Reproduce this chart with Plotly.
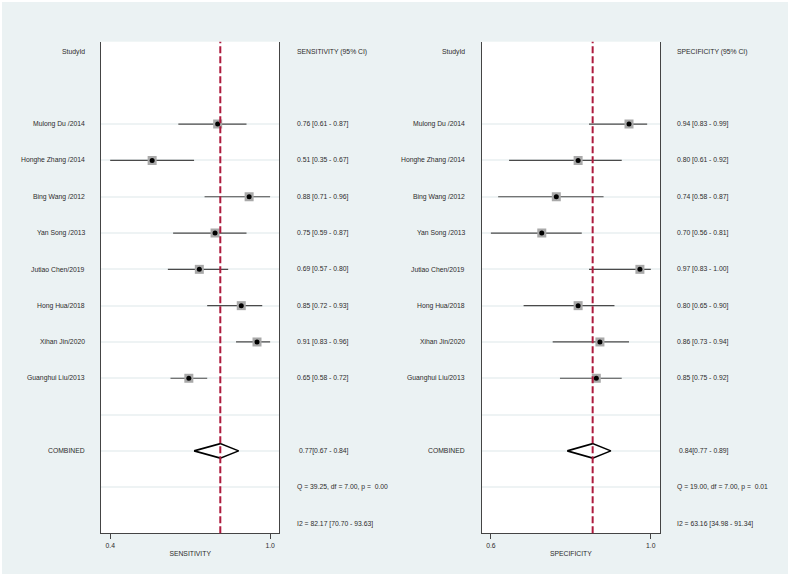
import math
import plotly.graph_objects as go

studies = ["Mulong Du /2014", "Honghe Zhang /2014", "Bing Wang /2012", "Yan Song /2013",
           "Jutiao Chen/2019", "Hong Hua/2018", "Xihan Jin/2020", "Guanghui Liu/2013"]

sens_est = [0.76, 0.51, 0.88, 0.75, 0.69, 0.85, 0.91, 0.65]
sens_lo = [0.61, 0.35, 0.71, 0.59, 0.57, 0.72, 0.83, 0.58]
sens_hi = [0.87, 0.67, 0.96, 0.87, 0.80, 0.93, 0.96, 0.72]
sens_comb = [0.77, 0.67, 0.84]
sens_q = "Q = 39.25, df = 7.00, p =  0.00"
sens_i2 = "I2 = 82.17 [70.70 - 93.63]"

spec_est = [0.94, 0.80, 0.74, 0.70, 0.97, 0.80, 0.86, 0.85]
spec_lo = [0.83, 0.61, 0.58, 0.56, 0.83, 0.65, 0.73, 0.75]
spec_hi = [0.99, 0.92, 0.87, 0.81, 1.00, 0.90, 0.94, 0.92]
spec_comb = [0.84, 0.77, 0.89]
spec_q = "Q = 19.00, df = 7.00, p =  0.01"
spec_i2 = "I2 = 63.16 [34.98 - 91.34]"

W, H = 790, 576
FONT = "Liberation Sans, Arial, sans-serif"
TXT = "#2b2b2b"
FS = 6.8
BG = "#EBF2F3"


def fmt1(v):
    return f"{math.floor(v * 10 + 0.5 + 1e-9) / 10:.1f}"


study_rows = list(range(2, 2 + len(studies)))
comb_row = 11
q_row = 12
i2_row = 13

fig = go.Figure()

panels = [
    dict(est=sens_est, lo=sens_lo, hi=sens_hi, comb=sens_comb, q=sens_q, i2=sens_i2,
         name="SENSITIVITY", xa="x", ya="y", dom=[101 / W, 279.3 / W],
         lab_x=86.5 / W, val_x=295 / W),
    dict(est=spec_est, lo=spec_lo, hi=spec_hi, comb=spec_comb, q=spec_q, i2=spec_i2,
         name="SPECIFICITY", xa="x2", ya="y2", dom=[481.7 / W, 660 / W],
         lab_x=467 / W, val_x=675.3 / W),
]

annotations = []
shapes = []
for i, p in enumerate(panels):
    # whiskers
    wx, wy = [], []
    for r, l, h in zip(study_rows, p["lo"], p["hi"]):
        wx += [l, h, None]
        wy += [r, r, None]
    fig.add_trace(go.Scatter(x=wx, y=wy, mode="lines", line=dict(color="#4a4a4a", width=1.2),
                             xaxis=p["xa"], yaxis=p["ya"], showlegend=False, hoverinfo="skip"))
    # square + dot
    fig.add_trace(go.Scatter(x=p["est"], y=study_rows, mode="markers",
                             marker=dict(symbol="square", size=9, color="#A9A9A9",
                                         line=dict(width=0)),
                             xaxis=p["xa"], yaxis=p["ya"], showlegend=False, hoverinfo="skip"))
    fig.add_trace(go.Scatter(x=p["est"], y=study_rows, mode="markers",
                             marker=dict(symbol="circle", size=5, color="black"),
                             xaxis=p["xa"], yaxis=p["ya"], showlegend=False, hoverinfo="skip"))
    # diamond
    est, lo, hi = p["comb"]
    fig.add_trace(go.Scatter(x=[lo, est, hi, est, lo],
                             y=[comb_row, comb_row - 0.2, comb_row, comb_row + 0.2, comb_row],
                             mode="lines", fill="toself", fillcolor="white",
                             line=dict(color="black", width=1.6),
                             xaxis=p["xa"], yaxis=p["ya"], showlegend=False, hoverinfo="skip"))
    # pooled dashed line
    shapes.append(dict(type="line", xref=p["xa"], yref=p["ya"] + " domain",
                       x0=est, x1=est, y0=0, y1=1,
                       line=dict(color="#AD1A3D", width=2, dash="7px,3px")))

    # labels
    ya = p["ya"]
    annotations.append(dict(text="StudyId", x=p["lab_x"], xref="paper", y=0, yref=ya,
                            xanchor="right", yanchor="middle", showarrow=False))
    annotations.append(dict(text=p["name"] + " (95% CI)", x=p["val_x"], xref="paper", y=0, yref=ya,
                            xanchor="left", yanchor="middle", showarrow=False))
    for r, s, e, l, h in zip(study_rows, studies, p["est"], p["lo"], p["hi"]):
        annotations.append(dict(text=s, x=p["lab_x"], xref="paper", y=r, yref=ya,
                                xanchor="right", yanchor="middle", showarrow=False))
        annotations.append(dict(text=f"{e:.2f} [{l:.2f} - {h:.2f}]", x=p["val_x"], xref="paper",
                                y=r, yref=ya, xanchor="left", yanchor="middle", showarrow=False))
    annotations.append(dict(text="COMBINED", x=p["lab_x"], xref="paper", y=comb_row, yref=ya,
                            xanchor="right", yanchor="middle", showarrow=False))
    annotations.append(dict(text=f"{est:.2f}[{lo:.2f} - {hi:.2f}]", x=p["val_x"] + 1.7 / W,
                            xref="paper", y=comb_row, yref=ya,
                            xanchor="left", yanchor="middle", showarrow=False))
    annotations.append(dict(text=p["q"], x=p["val_x"], xref="paper", y=q_row, yref=ya,
                            xanchor="left", yanchor="middle", showarrow=False))
    annotations.append(dict(text=p["i2"], x=p["val_x"], xref="paper", y=i2_row, yref=ya,
                            xanchor="left", yanchor="middle", showarrow=False))

    tmin, tmax = min(p["lo"]), max(p["hi"])
    pad = 0.0575 * (tmax - tmin)
    xkey = "xaxis" if i == 0 else "xaxis2"
    ykey = "yaxis" if i == 0 else "yaxis2"
    fig.layout[xkey] = dict(domain=p["dom"], range=[tmin - pad, tmax + pad],
                            tickvals=[tmin, tmax], ticktext=[fmt1(tmin), fmt1(tmax)],
                            ticks="outside", ticklen=5, tickwidth=1, tickcolor="#444",
                            showgrid=False, zeroline=False, showline=True, linecolor="#444",
                            linewidth=1.3, anchor=ya,
                            tickfont=dict(size=FS, color=TXT, family=FONT),
                            title=dict(text=p["name"], font=dict(size=FS, color=TXT, family=FONT),
                                       standoff=3))
    fig.layout[ykey] = dict(domain=[(H - 533.3) / H, (H - 41.7) / H], range=[13.27, -0.27],
                            tickvals=list(range(2, 13)), showticklabels=False, ticks="",
                            showgrid=True, gridcolor="#EEF3F4", gridwidth=1.5,
                            zeroline=False, showline=True, mirror=True, linecolor="#444",
                            linewidth=1.3, anchor=p["xa"])

# white outer frame
shapes.append(dict(type="rect", xref="paper", yref="paper", x0=0, x1=1, y0=0, y1=1,
                   line=dict(color="white", width=4), fillcolor="rgba(0,0,0,0)", layer="above"))

fig.update_layout(width=W, height=H, margin=dict(l=0, r=0, t=0, b=0, pad=0),
                  paper_bgcolor=BG, plot_bgcolor="white",
                  font=dict(family=FONT, size=FS, color=TXT),
                  annotations=annotations, shapes=shapes, showlegend=False)

fig.write_html("out.html", config={"displayModeBar": False},
               post_script="document.body.style.margin='0';document.body.style.overflow='hidden';")
